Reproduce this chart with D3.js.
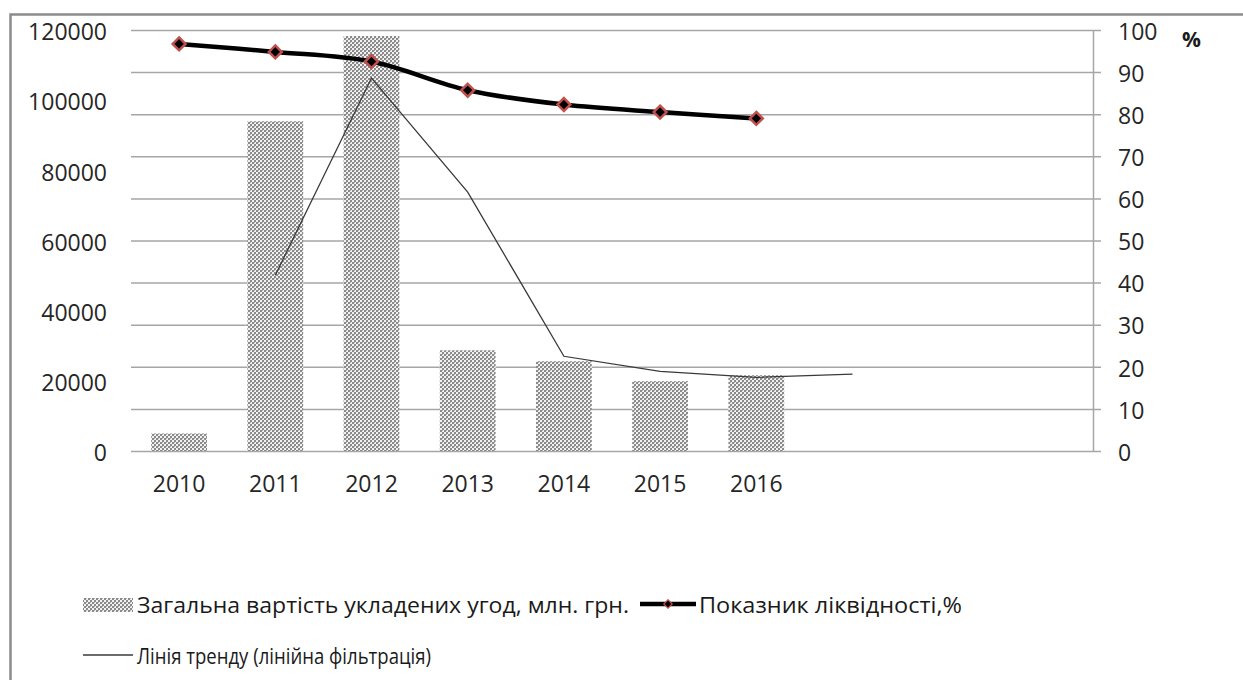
<!DOCTYPE html>
<html>
<head>
<meta charset="utf-8">
<script src="https://cdn.jsdelivr.net/npm/d3@7"></script>
<style>
  html, body { margin: 0; padding: 0; background: #fff; }
  svg { display: block; }
  svg text { font-family: "Open Sans", "Noto Sans", sans-serif; }
</style>
</head>
<body>
<svg id="chart" width="1243" height="680"></svg>
<script>
// Category slots along the x axis (the last three are left blank)
const categories = ["2010", "2011", "2012", "2013", "2014", "2015", "2016", "", "", ""];

// Total value of concluded deals, UAH mln (left axis)
const dealValues = [5000, 94000, 118300, 28700, 25600, 19900, 21600];

// Liquidity ratio, % (right axis)
const liquidity = [96.7, 94.8, 92.5, 85.7, 82.3, 80.5, 79.0];

// Trend line (moving-average filtering), UAH mln, starts at the 2nd slot
const trend = [null, 50100, 106300, 73800, 27000, 22700, 21000, 21900];

// Axis tick values
const leftTicks = [0, 20000, 40000, 60000, 80000, 100000, 120000];
const rightTicks = [0, 10, 20, 30, 40, 50, 60, 70, 80, 90, 100];

// Legend labels
const legendLabels = [
  "Загальна вартість укладених угод, млн. грн.",
  "Показник ліквідності,%",
  "Лінія тренду (лінійна фільтрація)"
];

const FONT = '"Open Sans", "Noto Sans", sans-serif';
const TEXT = "#262626";

const svg = d3.select("#chart");
const plot = { left: 131, right: 1093, top: 30, bottom: 451 };
const plotW = plot.right - plot.left;

// Fine dotted fill used by the bars
const defs = svg.append("defs");
const pat = defs.append("pattern")
  .attr("id", "dots")
  .attr("patternUnits", "userSpaceOnUse")
  .attr("width", 4).attr("height", 4);
pat.append("rect").attr("width", 4).attr("height", 4).attr("fill", "#f2f2f2");
pat.append("rect").attr("x", 2).attr("y", 0).attr("width", 2).attr("height", 2).attr("fill", "#8a8a8a");
pat.append("rect").attr("x", 0).attr("y", 2).attr("width", 2).attr("height", 2).attr("fill", "#8a8a8a");
pat.append("rect").attr("x", 2).attr("y", 2).attr("width", 1).attr("height", 1).attr("fill", "#b5b5b5");

// Chart frame
svg.append("rect")
  .attr("x", 10.5).attr("y", 14.5)
  .attr("width", 1400).attr("height", 800)
  .attr("fill", "none")
  .attr("stroke", "#8c8c8c")
  .attr("stroke-width", 2.5);

// Scales
const x = d3.scaleBand()
  .domain(d3.range(categories.length))
  .range([plot.left, plot.right])
  .paddingInner(0.42)
  .paddingOuter(0.21);
const yL = d3.scaleLinear().domain([0, 120000]).range([plot.bottom, plot.top]);
const yR = d3.scaleLinear().domain([0, 100]).range([plot.bottom, plot.top]);
const cx = i => x(i) + x.bandwidth() / 2;

function styleAxisText(g, size) {
  g.attr("font-family", FONT).attr("font-size", size);
  g.selectAll("text").attr("fill", TEXT).attr("font-family", FONT).attr("font-size", size);
}

// Horizontal gridlines (follow the right axis ticks)
const grid = svg.append("g")
  .attr("transform", `translate(${plot.left},0)`)
  .call(d3.axisRight(yR).tickValues(rightTicks).tickSize(plotW + 8).tickFormat(""));
grid.select(".domain").remove();
grid.selectAll("line").attr("stroke", "#a6a6a6").attr("stroke-width", 1.5);

// Right axis
const axR = svg.append("g")
  .attr("transform", `translate(${plot.right},0)`)
  .call(d3.axisRight(yR).tickValues(rightTicks).tickSize(0).tickPadding(25));
axR.select(".domain").attr("stroke", "#a6a6a6").attr("stroke-width", 1.5);
styleAxisText(axR, 23);
axR.selectAll("text").attr("dy", "0.4em");

svg.append("text")
  .attr("x", 1182).attr("y", 47)
  .attr("font-size", 21).attr("font-weight", "bold")
  .attr("fill", "#1a1a1a")
  .text("%");

// Left axis
const axL = svg.append("g")
  .attr("transform", `translate(${plot.left},0)`)
  .call(d3.axisLeft(yL).tickValues(leftTicks).tickSize(0).tickPadding(24).tickFormat(d3.format("d")));
axL.select(".domain").remove();
styleAxisText(axL, 23);
axL.selectAll("text").attr("dy", "0.42em");

// Category axis
const axB = svg.append("g")
  .attr("transform", `translate(0,${plot.bottom})`)
  .call(d3.axisBottom(x).tickSize(0).tickPadding(25).tickFormat(i => categories[i]));
axB.select(".domain").remove();
styleAxisText(axB, 23);

// Bars
svg.append("g").selectAll("rect")
  .data(dealValues)
  .join("rect")
  .attr("x", (d, i) => x(i))
  .attr("y", d => yL(d))
  .attr("width", x.bandwidth())
  .attr("height", d => yL(0) - yL(d))
  .attr("fill", "url(#dots)");

// Trend line
const trendLine = d3.line()
  .defined(d => d != null)
  .x((d, i) => cx(i))
  .y(d => yL(d));
svg.append("path")
  .datum(trend)
  .attr("d", trendLine)
  .attr("fill", "none")
  .attr("stroke", "#3a3a3a")
  .attr("stroke-width", 1.3);

// Liquidity line (smoothed)
const liqLine = d3.line()
  .x((d, i) => cx(i))
  .y(d => yR(d))
  .curve(d3.curveCatmullRom.alpha(0.5));
svg.append("path")
  .datum(liquidity)
  .attr("d", liqLine)
  .attr("fill", "none")
  .attr("stroke", "#000")
  .attr("stroke-width", 4.5);

const diamond = d3.symbol().type(d3.symbolDiamond2).size(105);
svg.append("g").selectAll("path")
  .data(liquidity)
  .join("path")
  .attr("transform", (d, i) => `translate(${cx(i)},${yR(d)})`)
  .attr("d", diamond)
  .attr("fill", "#000")
  .attr("stroke", "#c0504d")
  .attr("stroke-width", 2.5);

// Legend
const lg = svg.append("g").attr("font-family", FONT).attr("font-size", 21).attr("fill", "#1a1a1a");
lg.append("rect")
  .attr("x", 83).attr("y", 598).attr("width", 50).attr("height", 14)
  .attr("fill", "url(#dots)");
lg.append("text").attr("x", 137).attr("y", 613).text(legendLabels[0])
  .attr("textLength", 492).attr("lengthAdjust", "spacingAndGlyphs");

lg.append("line")
  .attr("x1", 640).attr("x2", 696).attr("y1", 604).attr("y2", 604)
  .attr("stroke", "#000").attr("stroke-width", 4.5);
lg.append("path")
  .attr("transform", "translate(668,604)")
  .attr("d", d3.symbol().type(d3.symbolDiamond2).size(45))
  .attr("fill", "#000").attr("stroke", "#c0504d").attr("stroke-width", 1.2);
lg.append("text").attr("x", 699).attr("y", 613).text(legendLabels[1])
  .attr("textLength", 263).attr("lengthAdjust", "spacingAndGlyphs");

lg.append("line")
  .attr("x1", 83).attr("x2", 133).attr("y1", 655).attr("y2", 655)
  .attr("stroke", "#3a3a3a").attr("stroke-width", 1.3);
lg.append("text").attr("x", 137).attr("y", 664).text(legendLabels[2])
  .attr("textLength", 294).attr("lengthAdjust", "spacingAndGlyphs");
</script>
</body>
</html>
